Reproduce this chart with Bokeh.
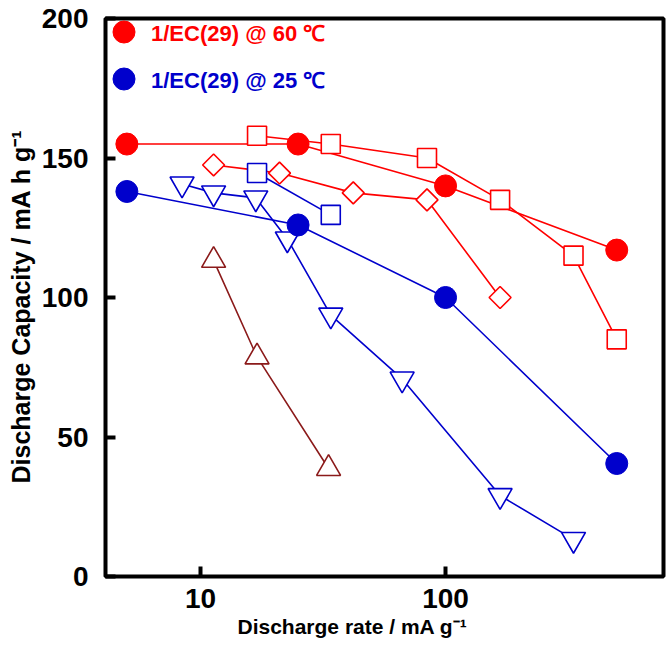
import numpy as np
from bokeh.plotting import figure
from bokeh.models import (Range1d, FixedTicker, Legend, LegendItem,
                          NumeralTickFormatter, Title)
from bokeh.embed import file_html
from bokeh.resources import INLINE

# ---- data ----
rate_60C = [5, 25, 100, 500]
cap_60C = [155, 155, 140, 117]
rate_25C = [5, 25, 100, 500]
cap_25C = [138, 126, 100, 40.5]
rate_sq_red = [17, 34, 84, 167, 333, 500]
cap_sq_red = [158, 155, 150, 135, 115, 85]
rate_dia_red = [11.3, 21, 42, 84, 167]
cap_dia_red = [147.5, 144.6, 137.5, 135, 100]
rate_sq_blue = [17, 34]
cap_sq_blue = [144.6, 129.6]
rate_tri_blue = [8.4, 11.3, 16.8, 22.6, 34, 66.5, 167, 333]
cap_tri_blue = [140.7, 137.5, 135.7, 121, 93.7, 70.8, 29, 13.3]
rate_tri_brown = [11.3, 17, 33.3]
cap_tri_brown = [113.3, 78.7, 38.7]
x_ticks = [10, 100]
y_ticks = [0, 50, 100, 150, 200]
x_title = "Discharge rate / mA g\u207b\u00b9"
y_title = "Discharge Capacity / mA h g\u207b\u00b9"
legend_labels = ["1/EC(29) @ 60 \u2103", "1/EC(29) @ 25 \u2103"]

RED = "#FF0000"
BLUE = "#0000CC"
BROWN = "#8B1A1A"
FONT = "Liberation Sans"

p = figure(width=667, height=649, x_axis_type="log",
           x_range=Range1d(4.09, 776), y_range=Range1d(0, 200),
           output_backend="svg", toolbar_location=None,
           min_border_left=105, min_border_right=4,
           min_border_top=18, min_border_bottom=73)
p.grid.visible = False
p.outline_line_color = "black"
p.outline_line_width = 4
p.background_fill_color = "white"
p.border_fill_color = "white"

# axes
p.xaxis.ticker = FixedTicker(ticks=x_ticks, minor_ticks=[])
p.xaxis.formatter = NumeralTickFormatter(format="0")
p.yaxis.ticker = FixedTicker(ticks=y_ticks, minor_ticks=[])
for ax in (p.xaxis[0], p.yaxis[0]):
    ax.axis_line_color = None
    ax.major_tick_in = 10
    ax.major_tick_out = 0
    ax.major_tick_line_width = 4
    ax.major_tick_line_color = "black"
    ax.minor_tick_line_color = None
    ax.major_label_text_font = FONT
    ax.major_label_text_font_style = "bold"
    ax.major_label_text_font_size = "28px"
    ax.major_label_text_color = "black"
p.xaxis.major_label_standoff = 12
p.yaxis.major_label_standoff = 17

# axis titles as side titles (allows the reference's off-centre placement)
p.add_layout(Title(text=x_title, align="left", offset=132, standoff=5,
                   text_font=FONT, text_font_style="bold", text_font_size="21px",
                   text_color="black"), "below")
p.add_layout(Title(text=y_title, align="left", offset=93, standoff=3,
                   vertical_align="top",
                   text_font=FONT, text_font_style="bold", text_font_size="25px",
                   text_color="black"), "left")

LW = 1.6

# lines first
p.line(rate_tri_brown, cap_tri_brown, line_color=BROWN, line_width=LW)
p.line(rate_tri_blue, cap_tri_blue, line_color=BLUE, line_width=LW)
p.line(rate_sq_blue, cap_sq_blue, line_color=BLUE, line_width=LW)
p.line(rate_25C, cap_25C, line_color=BLUE, line_width=LW)
p.line(rate_dia_red, cap_dia_red, line_color=RED, line_width=LW)
p.line(rate_sq_red, cap_sq_red, line_color=RED, line_width=LW)
p.line(rate_60C, cap_60C, line_color=RED, line_width=LW)

# markers
p.scatter(rate_tri_brown, cap_tri_brown, marker="triangle", size=24,
          fill_color="white", line_color=BROWN, line_width=LW)
p.scatter(rate_tri_blue, cap_tri_blue, marker="inverted_triangle", size=24,
          fill_color="white", line_color=BLUE, line_width=LW)
p.scatter(rate_sq_blue, cap_sq_blue, marker="square", size=19,
          fill_color="white", line_color=BLUE, line_width=LW)
r25 = p.scatter(rate_25C, cap_25C, marker="circle", size=22,
                fill_color=BLUE, line_color=BLUE)
p.scatter(rate_dia_red, cap_dia_red, marker="square", angle=np.pi / 4, size=15.5,
          fill_color="white", line_color=RED, line_width=LW)
p.scatter(rate_sq_red, cap_sq_red, marker="square", size=19,
          fill_color="white", line_color=RED, line_width=LW)
r60 = p.scatter(rate_60C, cap_60C, marker="circle", size=22,
                fill_color=RED, line_color=RED)


def make_legend(label, renderer, color, loc):
    return Legend(items=[LegendItem(label=label, renderers=[renderer])],
                  location=loc, glyph_width=55, glyph_height=55,
                  label_standoff=0, padding=0, margin=0, spacing=0,
                  border_line_color=None, background_fill_alpha=0,
                  label_text_color=color, label_text_font=FONT,
                  label_text_font_style="bold", label_text_font_size="22px",
                  label_height=22)


p.add_layout(make_legend(legend_labels[0], r60, RED, (-9, 517)))
p.add_layout(make_legend(legend_labels[1], r25, BLUE, (-9, 470)))

open("out.html", "w").write(file_html(p, INLINE))
